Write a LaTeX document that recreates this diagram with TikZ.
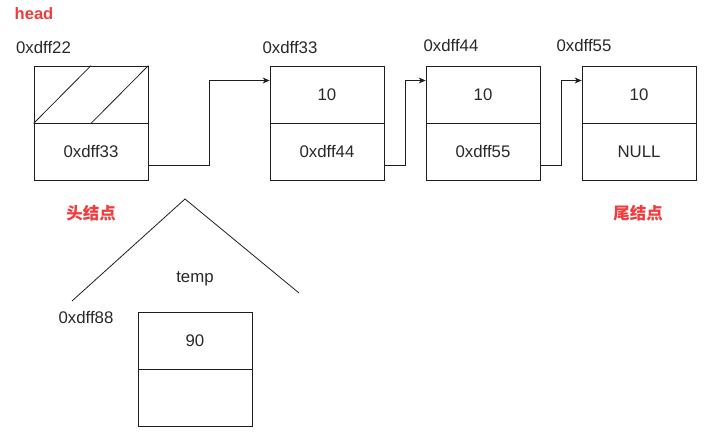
\documentclass[tikz,border=0pt]{standalone}
\usepackage{fontspec}
\setmainfont{Liberation Sans}
\newfontfamily\cjk{Noto Sans CJK SC}
\usetikzlibrary{arrows.meta}
\definecolor{lbl}{RGB}{240,60,60}
\definecolor{ln}{RGB}{30,30,30}
\definecolor{txt}{RGB}{40,40,40}
\tikzset{
  cell/.style={draw=ln, line width=0.8pt, minimum width=114pt, minimum height=57pt, inner sep=0pt, text=txt, font=\fontsize{16.8}{19}\selectfont},
  addr/.style={text=txt, inner sep=0pt, font=\fontsize{16.8}{19}\selectfont},
  redlbl/.style={text=lbl, inner sep=0pt, font=\fontsize{16.5}{19}\selectfont\bfseries},
  link/.style={draw=ln, line width=0.8pt, -{Stealth[length=7pt,width=6pt]}},
  plain/.style={draw=ln, line width=0.8pt}
}
\begin{document}
\begin{tikzpicture}[x=1pt,y=-1pt]
\useasboundingbox (0,0) rectangle (705,433);
% head node
\node[cell] (h1) at (91,94.5) {};
\node[cell] (h2) at (91,151.5) {0xdff33};
\draw[plain] (h1.south west) -- (h1.north);
\draw[plain] (h1.south) -- (h1.north east);
% node 2
\node[cell] (a1) at (327,94.5) {10};
\node[cell] (a2) at (327,151.5) {0xdff44};
% node 3
\node[cell] (b1) at (483,94.5) {10};
\node[cell] (b2) at (483,151.5) {0xdff55};
% node 4
\node[cell] (c1) at (639,94.5) {10};
\node[cell] (c2) at (639,151.5) {NULL};
% temp node
\node[cell] (t1) at (195,341) {90};
\node[cell] (t2) at (195,398) {};
% connectors
\draw[link] ([yshift=-14pt]h2.east) -- ++(61,0) |- ([yshift=14pt]a1.west);
\draw[link] ([yshift=-14pt]a2.east) -- ++(21,0) |- ([yshift=14pt]b1.west);
\draw[link] ([yshift=-14pt]b2.east) -- ++(21,0) |- ([yshift=14pt]c1.west);
% labels
\node[redlbl] (lhead) at (34,14) {head};
\node[addr] (l22) at (43.5,47) {0xdff22};
\node[addr] (l33) at (290,47) {0xdff33};
\node[addr] (l44) at (451,45) {0xdff44};
\node[addr] (l55) at (584,45) {0xdff55};
\node[redlbl] (ltou) at (91,213) {\cjk\bfseries 头结点};
\node[redlbl] (lwei) at (638,213) {\cjk\bfseries 尾结点};
\node[addr] (ltemp) at (195,279) {temp};
\node[addr] (l88) at (86,317) {0xdff88};
% roof
\draw[plain] (72,301) -- (185,199) -- (299,293);
\end{tikzpicture}
\end{document}
